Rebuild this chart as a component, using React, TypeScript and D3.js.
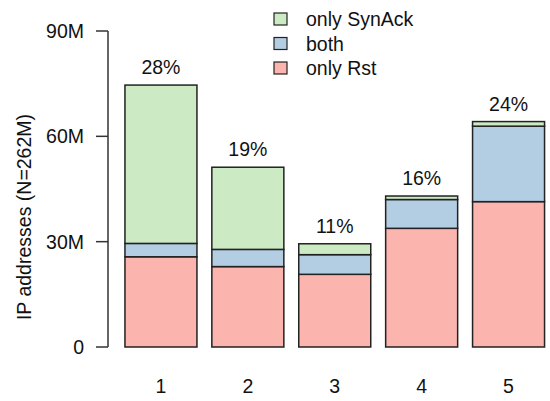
import React from "react";
import * as d3 from "d3";

const categories = ["1", "2", "3", "4", "5"];
const onlyRst = [25.7, 22.9, 20.7, 33.8, 41.4];
const both = [3.8, 4.9, 5.6, 8.2, 21.5];
const onlySynAck = [45.1, 23.4, 3.1, 1.0, 1.3];
const pctLabels = ["28%", "19%", "11%", "16%", "24%"];
const yTicks = [0, 30, 60, 90];
const yTickLabels = ["0", "30M", "60M", "90M"];
const seriesNames = ["only SynAck", "both", "only Rst"];
const colors = { rst: "#FBB4AE", both: "#B3CDE3", syn: "#CCEBC5" };

export default function App() {
  const W = 550, H = 401;
  const y = d3.scaleLinear().domain([0, 90]).range([347, 31]);
  const x = d3.scaleBand().domain(categories).range([117.5, 552]).paddingInner(0.1715).paddingOuter(0.0857);
  const font = "Liberation Sans, Arial, Helvetica, sans-serif";
  const fs = 19.5;
  const stack = categories.map((c, i) => {
    const r0 = 0, r1 = onlyRst[i];
    const b1 = r1 + both[i];
    const s1 = b1 + onlySynAck[i];
    return { c, segs: [
      { y0: r0, y1: r1, fill: colors.rst },
      { y0: r1, y1: b1, fill: colors.both },
      { y0: b1, y1: s1, fill: colors.syn },
    ], total: s1 };
  });
  const legendColors = [colors.syn, colors.both, colors.rst];
  return (
    <svg width={W} height={H} style={{ position: "absolute", left: 0, top: 0 }} fontFamily={font}>
      <rect width={W} height={H} fill="white" />
      <line x1={108} x2={108} y1={y(0)} y2={y(90)} stroke="#333" strokeWidth={1.5} />
      {yTicks.map((t, i) => (
        <g key={t}>
          <line x1={96} x2={108} y1={y(t)} y2={y(t)} stroke="#333" strokeWidth={1.5} />
          <text x={84} y={y(t)} dy="0.36em" textAnchor="end" fontSize={fs} fill="#111">{yTickLabels[i]}</text>
        </g>
      ))}
      <text transform={`translate(31,217) rotate(-90)`} textAnchor="middle" fontSize={fs} fill="#111">IP addresses (N=262M)</text>
      {stack.map((s, i) => (
        <g key={s.c}>
          {s.segs.map((g, j) => (
            <rect key={j} x={x(s.c)!} width={x.bandwidth()} y={y(g.y1)} height={y(g.y0) - y(g.y1)}
              fill={g.fill} stroke="#222" strokeWidth={1.5} />
          ))}
          <text x={x(s.c)! + x.bandwidth() / 2} y={y(s.total) - 11} textAnchor="middle" fontSize={fs} fill="#111">{pctLabels[i]}</text>
          <text x={x(s.c)! + x.bandwidth() / 2} y={393} textAnchor="middle" fontSize={fs} fill="#111">{s.c}</text>
        </g>
      ))}
      {seriesNames.map((n, i) => (
        <g key={n}>
          <rect x={274} y={13 + i * 24.5} width={13} height={12} fill={legendColors[i]} stroke="#222" strokeWidth={1.2} />
          <text x={306} y={19 + i * 24.5} dy="0.36em" fontSize={fs} fill="#111">{n}</text>
        </g>
      ))}
    </svg>
  );
}
